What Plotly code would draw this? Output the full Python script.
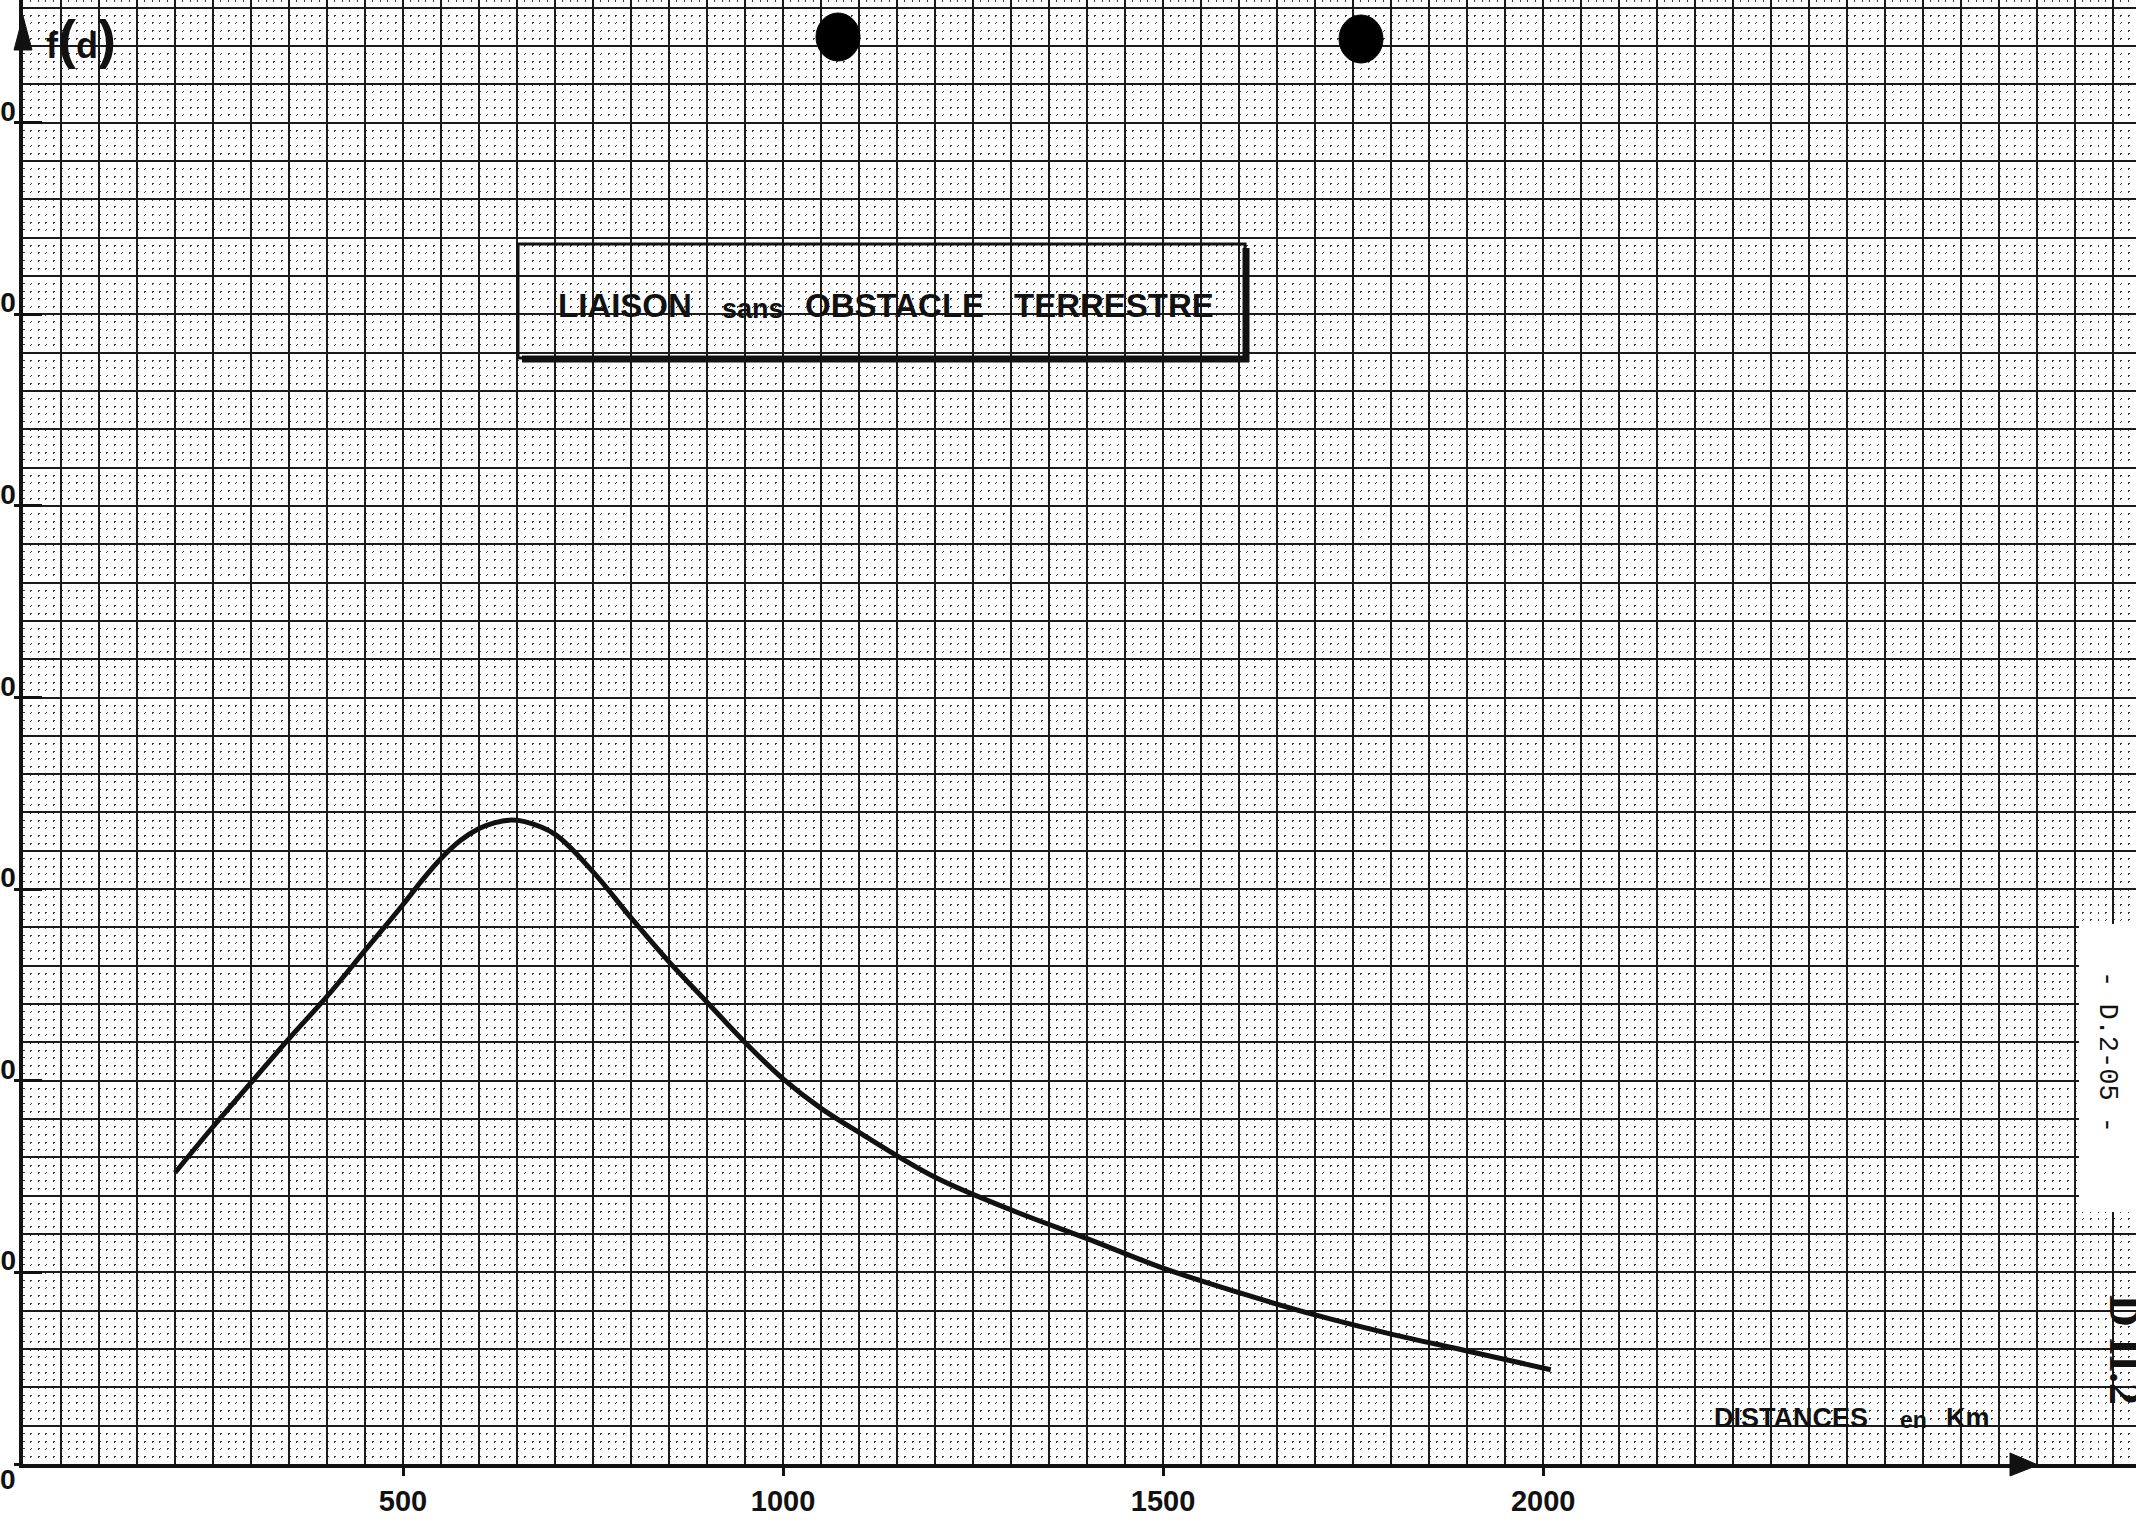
import plotly.graph_objects as go

# ---------------- data ----------------
distance_km = [200, 250, 300, 350, 400, 450, 500, 525, 550, 575, 600, 620, 640, 660,
               700, 750, 800, 850, 900, 950, 1000, 1050, 1100, 1200, 1300, 1400,
               1500, 1600, 1700, 1800, 1900, 2010]
f_d = [76, 88, 99.5, 111, 122, 134, 146, 152.3, 158, 162.6, 165.8, 167.3, 168, 167.6,
       164.3, 154.5, 142.5, 131, 120.5, 110, 100.5, 92.8, 86.5, 74.8, 66.3, 58.8,
       51.1, 44.7, 38.9, 33.9, 29.5, 24.6]

x_tick_values = [500, 1000, 1500, 2000]
x_tick_labels = ["500", "1000", "1500", "2000"]
y_tick_values = [0, 50, 100, 150, 200, 250, 300, 350]
y_tick_labels = ["0", "50", "100", "150", "200", "250", "300", "350"]

title_words = ["LIAISON", "sans", "OBSTACLE", "TERRESTRE"]
x_title_words = ["DISTANCES", "en", "Km"]
y_title = "f(d)"
sheet_ref = "- D.2-05 -"
sheet_id = "D II.2"

# ---------------- geometry ----------------
W_FIG, H_FIG = 2136, 1527
ML, MB = 23, 63
PW, PH = W_FIG - ML, H_FIG - MB
X_MAX, Y_MAX = 2780, 382


def px(x):
    return (x - ML) / PW


def py(y):
    return (PH - y) / PH


per_x = 10 * PW / X_MAX      # px between minor vertical positions
per_y = 2 * PH / Y_MAX       # px between minor horizontal positions
DOT = 1.5

INK = "#111111"
BOLD = "Liberation Sans, Arial, sans-serif"

fig = go.Figure()
fig.add_trace(go.Scatter(x=distance_km, y=f_d, mode="lines",
                         line=dict(color=INK, width=5, shape="spline", smoothing=1.0),
                         hoverinfo="skip"))
for xa, ya in [("x2", "y"), ("x", "y2"), ("x", "y3")]:
    fig.add_trace(go.Scatter(x=[distance_km[0]], y=[f_d[0]], xaxis=xa, yaxis=ya,
                             mode="markers", marker=dict(opacity=0), hoverinfo="skip"))

grid_common = dict(showgrid=True, gridcolor="#1a1a1a", gridwidth=1.6, zeroline=False,
                   showticklabels=False, ticks="")
minor_color = "#3a3a3a"

fig.update_layout(
    width=W_FIG, height=H_FIG,
    margin=dict(l=ML, r=0, t=0, b=MB, pad=0),
    paper_bgcolor="white", plot_bgcolor="white", showlegend=False,
    xaxis=dict(range=[0, X_MAX], dtick=50, tick0=0, **grid_common,
               showline=True, linecolor=INK, linewidth=4,
               minor=dict(dtick=10, tick0=0, showgrid=True, gridcolor=minor_color, gridwidth=1.3,
                          griddash=f"{DOT}px,{per_y - DOT:.4f}px")),
    yaxis=dict(range=[0, Y_MAX], dtick=10, tick0=0, **grid_common,
               showline=True, linecolor=INK, linewidth=3.5,
               minor=dict(dtick=2, tick0=0, showgrid=True, gridcolor=minor_color, gridwidth=1.3,
                          griddash=f"{DOT}px,{per_x - DOT:.4f}px")),
    xaxis2=dict(range=[0, X_MAX], overlaying="x", anchor="y", side="bottom",
                showgrid=False, zeroline=False, tickmode="array",
                tickvals=x_tick_values, ticktext=x_tick_labels,
                ticks="outside", ticklen=11, tickwidth=2.5, tickcolor=INK,
                ticklabelstandoff=0,
                tickfont=dict(family=BOLD, size=29, color=INK, weight="bold")),
    yaxis2=dict(range=[0, Y_MAX], overlaying="y", anchor="x", side="left",
                showgrid=False, zeroline=False, tickmode="array",
                tickvals=y_tick_values, showticklabels=False,
                ticks="outside", ticklen=8, tickwidth=2.5, tickcolor=INK),
    yaxis3=dict(range=[0, Y_MAX], overlaying="y", anchor="x", side="left",
                showgrid=False, zeroline=False, tickmode="array",
                tickvals=y_tick_values, showticklabels=False,
                ticks="inside", ticklen=19, tickwidth=2.5, tickcolor=INK),
)

annotations = []
# y tick labels (cut by the page edge, as on the scanned sheet)
for v, t in zip(y_tick_values, y_tick_labels):
    annotations.append(dict(x=px(18), xref="paper", y=v, yref="y", text=t,
                            xanchor="right", yanchor="bottom" if v > 0 else "top",
                            yshift=-6 if v > 0 else 2,
                            showarrow=False,
                            font=dict(family=BOLD, size=28, color=INK, weight="bold")))
# y axis name
annotations.append(dict(x=px(44), xref="paper", y=py(39), yref="paper",
                        text="f<span style='font-size:54px'>(</span>d<span style='font-size:54px'>)</span>",
                        xanchor="left", yanchor="middle", showarrow=False,
                        font=dict(family=BOLD, size=36, color=INK, weight="bold")))
# boxed title words
title_x = [556, 720, 803, 1012]
title_size = [33, 27, 33, 33]
title_y = [306, 309, 306, 306]
for w, xx, s, yy in zip(title_words, title_x, title_size, title_y):
    annotations.append(dict(x=px(xx), xref="paper", y=py(yy), yref="paper", text=w,
                            xanchor="left", yanchor="middle", showarrow=False,
                            font=dict(family=BOLD, size=s, color=INK, weight="bold")))
# x axis name
xt_x = [1712, 1898, 1944]
xt_size = [27, 23, 27]
xt_y = [1418, 1420, 1418]
for w, xx, s, yy in zip(x_title_words, xt_x, xt_size, xt_y):
    annotations.append(dict(x=px(xx), xref="paper", y=py(yy), yref="paper", text=w,
                            xanchor="left", yanchor="middle", showarrow=False,
                            font=dict(family=BOLD, size=s, color=INK, weight="bold")))
# sheet references on the right edge
annotations.append(dict(x=px(2107), xref="paper", y=py(1052), yref="paper", text=sheet_ref,
                        textangle=90, xanchor="center", yanchor="middle", showarrow=False,
                        font=dict(family="Liberation Mono, DejaVu Sans Mono, monospace",
                                  size=27, color=INK)))
annotations.append(dict(x=px(2125), xref="paper", y=py(1350), yref="paper", text=sheet_id,
                        textangle=90, xanchor="center", yanchor="middle", showarrow=False,
                        font=dict(family="Liberation Serif, DejaVu Serif, serif",
                                  size=44, color=INK, weight="bold")))
fig.update_layout(annotations=annotations)

shapes = []
# white label strip on the right
shapes.append(dict(type="rect", xref="paper", yref="paper",
                   x0=px(2079), x1=px(2140), y0=py(1212), y1=py(924),
                   fillcolor="white", line=dict(width=0), layer="above"))
# title box with heavy shadow on bottom/right
shapes.append(dict(type="rect", xref="paper", yref="paper",
                   x0=px(518), x1=px(1245), y0=py(358), y1=py(244),
                   line=dict(color=INK, width=3), layer="above"))
shapes.append(dict(type="line", xref="paper", yref="paper",
                   x0=px(522), x1=px(1249), y0=py(359), y1=py(359),
                   line=dict(color=INK, width=7), layer="above"))
shapes.append(dict(type="line", xref="paper", yref="paper",
                   x0=px(1246), x1=px(1246), y0=py(248), y1=py(362),
                   line=dict(color=INK, width=7), layer="above"))
# arrow heads
shapes.append(dict(type="path", xref="paper", yref="paper",
                   path=f"M {px(14)},{py(50)} L {px(23)},{py(16)} L {px(32)},{py(50)} Z",
                   fillcolor=INK, line=dict(color=INK, width=1), layer="above"))
shapes.append(dict(type="path", xref="paper", yref="paper",
                   path=f"M {px(2010)},{py(1453)} L {px(2038)},{py(1465)} L {px(2010)},{py(1476)} Z",
                   fillcolor=INK, line=dict(color=INK, width=1), layer="above"))
# punch holes
for cx, cy in [(838, 37), (1361, 39)]:
    shapes.append(dict(type="circle", xref="paper", yref="paper",
                       x0=px(cx - 22), x1=px(cx + 22), y0=py(cy + 24), y1=py(cy - 24),
                       fillcolor="black", line=dict(color="black", width=1), layer="above"))
fig.update_layout(shapes=shapes)

fig.write_html("out.html", config={"displayModeBar": False},
               post_script="document.body.style.margin='0';document.body.style.overflow='hidden';")
